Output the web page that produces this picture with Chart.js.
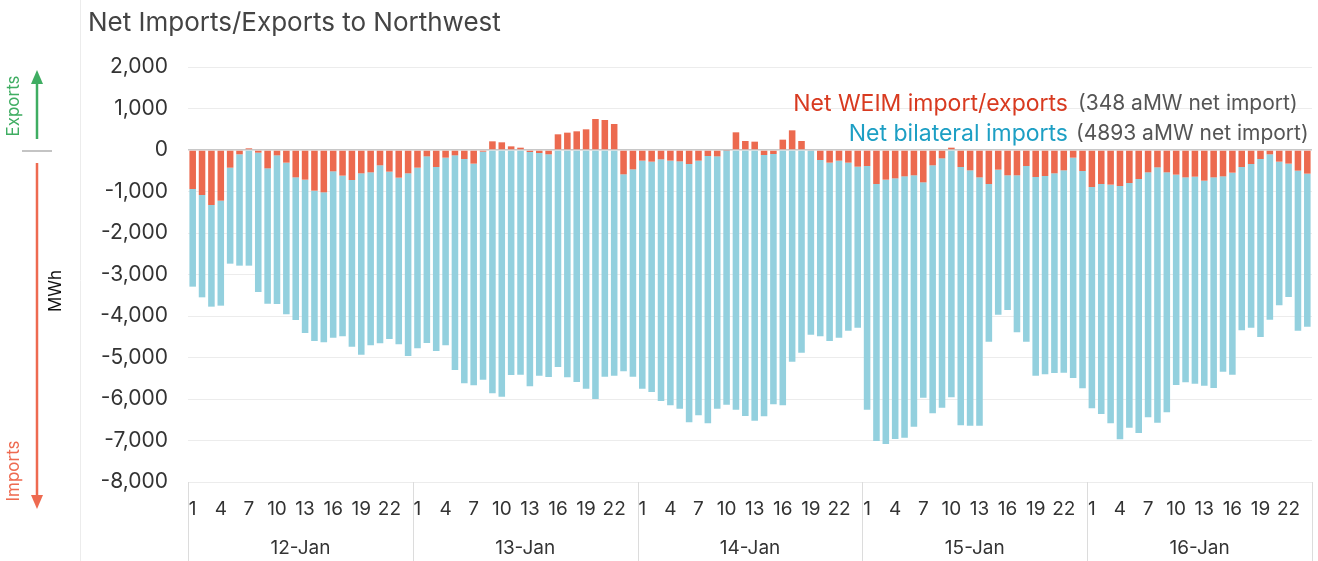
<!DOCTYPE html>
<html>
<head>
<meta charset="utf-8">
<script src="https://cdn.jsdelivr.net/npm/chart.js@4"></script>
<style>
  body { margin: 0; background: #fff; }
  canvas { display: block; }
</style>
</head>
<body>
<canvas id="chart" width="1318" height="561"></canvas>
<script>
// hours of each day and the day groups
const hours = [1, 2, 3, 4, 5, 6, 7, 8, 9, 10, 11, 12, 13, 14, 15, 16, 17, 18, 19, 20, 21, 22, 23, 24];
const days = ['12-Jan', '13-Jan', '14-Jan', '15-Jan', '16-Jan'];

// Net WEIM import/exports (MWh), one row per day
const weim = [
  -940, -1084, -1325, -1221, -426, -104, 40, -64, -442, -129, -305, -659, -715, -980, -1020, -514, -618, -723, -562, -538, -369, -522, -667, -562,
  -426, -153, -410, -185, -129, -217, -329, -40, 209, 185, 88, 56, -48, -72, -104, 378, 418, 450, 498, 747, 723, 627, -586, -466,
  -257, -281, -225, -257, -273, -337, -257, -145, -153, -10, 426, 217, 201, -120, -96, 249, 474, 217, -16, -241, -305, -257, -305, -402,
  -386, -819, -715, -683, -635, -610, -779, -369, -201, 56, -410, -490, -659, -819, -474, -610, -610, -386, -651, -627, -562, -490, -185, -506,
  -892, -819, -835, -867, -795, -699, -538, -418, -538, -594, -659, -643, -739, -659, -635, -546, -410, -337, -217, -104, -281, -329, -498, -570
];

// Net bilateral imports (MWh), one row per day
const bilateral = [
  -2353, -2466, -2450, -2530, -2313, -2683, -2787, -3358, -3261, -3582, -3655, -3437, -3695, -3622, -3615, -4008, -3872, -4016, -4370, -4169, -4290, -4032, -4016, -4402,
  -4353, -4498, -4433, -4522, -5172, -5405, -5342, -5494, -5863, -5944, -5422, -5414, -5647, -5366, -5366, -5229, -5478, -5590, -5751, -6000, -5462, -5438, -4747, -4996,
  -5494, -5550, -5823, -5896, -5960, -6225, -6137, -6441, -6080, -6129, -6257, -6410, -6522, -6298, -6033, -6153, -5100, -4884, -4434, -4249, -4297, -4265, -4048, -3879,
  -5871, -6193, -6369, -6281, -6297, -6057, -5189, -5976, -6008, -5960, -6225, -6153, -5984, -3799, -3494, -3245, -3784, -4232, -4787, -4779, -4811, -4875, -5309, -5237,
  -5333, -5542, -5751, -6105, -5896, -6120, -5904, -6152, -5783, -5069, -4939, -4987, -4940, -5076, -4706, -4868, -3935, -3944, -4289, -3984, -3462, -3213, -3855, -3687
];

const labels = days.flatMap(() => hours);
const FONT = 'Inter, "Liberation Sans", Arial, sans-serif';

function arrow(ctx, x, y1, y2, color) {
  // shaft from y1 to y2, head at y2
  const dir = y2 > y1 ? 1 : -1;
  ctx.strokeStyle = color;
  ctx.fillStyle = color;
  ctx.lineWidth = 2.5;
  ctx.beginPath();
  ctx.moveTo(x, y1);
  ctx.lineTo(x, y2 - dir * 12);
  ctx.stroke();
  ctx.beginPath();
  ctx.moveTo(x, y2);
  ctx.lineTo(x - 6, y2 - dir * 14);
  ctx.lineTo(x + 6, y2 - dir * 14);
  ctx.closePath();
  ctx.fill();
}

function vText(ctx, text, x, y, color, size) {
  ctx.save();
  ctx.translate(x, y);
  ctx.rotate(-Math.PI / 2);
  ctx.fillStyle = color;
  ctx.font = size + 'px ' + FONT;
  ctx.textAlign = 'center';
  ctx.textBaseline = 'middle';
  ctx.fillText(text, 0, 0);
  ctx.restore();
}

const decor = {
  id: 'decor',
  afterDraw(chart) {
    const ctx = chart.ctx;
    const area = chart.chartArea;
    const x = chart.scales.x;
    ctx.save();

    // title
    ctx.fillStyle = '#444';
    ctx.font = '26px ' + FONT;
    ctx.textBaseline = 'middle';
    ctx.textAlign = 'left';
    ctx.fillText('Net Imports/Exports to Northwest', 88, 23);

    // legend text
    ctx.font = '23px ' + FONT;
    ctx.textAlign = 'right';
    ctx.fillStyle = '#d83a20';
    ctx.fillText('Net WEIM import/exports', 1068, 104);
    ctx.fillStyle = '#1d9fc4';
    ctx.fillText('Net bilateral imports', 1068, 134);
    ctx.font = '21px ' + FONT;
    ctx.textAlign = 'left';
    ctx.fillStyle = '#555';
    ctx.fillText('(348 aMW net import)', 1078, 104);
    ctx.fillText('(4893 aMW net import)', 1076, 134);

    // day separators under the plot
    ctx.strokeStyle = '#dcdcdc';
    ctx.lineWidth = 1;
    for (let d = 0; d <= days.length; d++) {
      const i = d * hours.length;
      const px = i < labels.length
        ? x.getPixelForValue(i) - (x.getPixelForValue(1) - x.getPixelForValue(0)) / 2
        : area.right;
      ctx.beginPath();
      ctx.moveTo(Math.round(px) + 0.5, area.bottom);
      ctx.lineTo(Math.round(px) + 0.5, chart.height);
      ctx.stroke();
    }

    // left side panel
    ctx.strokeStyle = '#ececec';
    ctx.beginPath();
    ctx.moveTo(80.5, 0);
    ctx.lineTo(80.5, chart.height);
    ctx.stroke();

    vText(ctx, 'Exports', 14, 106, '#3fad62', 17);
    arrow(ctx, 37, 139, 70, '#3fad62');
    ctx.strokeStyle = '#c4c4c4';
    ctx.lineWidth = 2;
    ctx.beginPath();
    ctx.moveTo(22, 151);
    ctx.lineTo(52, 151);
    ctx.stroke();
    arrow(ctx, 37, 163, 509, '#ee6a50');
    vText(ctx, 'Imports', 14, 471, '#ee6a50', 17);
    vText(ctx, 'MWh', 56, 291, '#111', 17);

    ctx.restore();
  }
};

new Chart(document.getElementById('chart'), {
  type: 'bar',
  data: {
    labels: labels,
    datasets: [
      {
        label: 'Net WEIM import/exports',
        data: weim,
        backgroundColor: '#ec6a4f',
        barPercentage: 0.7,
        categoryPercentage: 1
      },
      {
        label: 'Net bilateral imports',
        data: bilateral,
        backgroundColor: '#93d0de',
        barPercentage: 0.7,
        categoryPercentage: 1
      }
    ]
  },
  options: {
    responsive: false,
    devicePixelRatio: 1,
    animation: false,
    layout: { padding: { left: 0, right: 6, top: 67, bottom: 0 } },
    plugins: {
      legend: { display: false },
      tooltip: { enabled: false }
    },
    scales: {
      x: {
        stacked: true,
        grid: { display: false },
        border: { display: false },
        ticks: {
          autoSkip: false,
          maxRotation: 0,
          padding: 8,
          color: '#333',
          font: { family: FONT, size: 19 },
          callback: (v, i) => (i % 3 === 0 ? labels[i] : '')
        },
        afterFit: (s) => { s.height = 45; }
      },
      x2: {
        type: 'category',
        labels: days,
        position: 'bottom',
        grid: { display: false },
        border: { display: false },
        ticks: {
          padding: 2,
          color: '#333',
          font: { family: FONT, size: 19 }
        },
        afterFit: (s) => { s.height = 34; }
      },
      y: {
        stacked: true,
        min: -8000,
        max: 2000,
        border: { display: false },
        grid: {
          drawTicks: false,
          color: (c) => (c.tick && c.tick.value === 0 ? '#c8c8c8' : '#ececec'),
          lineWidth: (c) => (c.tick && c.tick.value === 0 ? 1.5 : 1)
        },
        ticks: {
          stepSize: 1000,
          padding: 20,
          color: '#333',
          font: { family: FONT, size: 21 },
          callback: (v) => v.toLocaleString('en-US')
        },
        afterFit: (s) => { s.width = 188; }
      }
    }
  },
  plugins: [decor]
});
</script>
</body>
</html>
